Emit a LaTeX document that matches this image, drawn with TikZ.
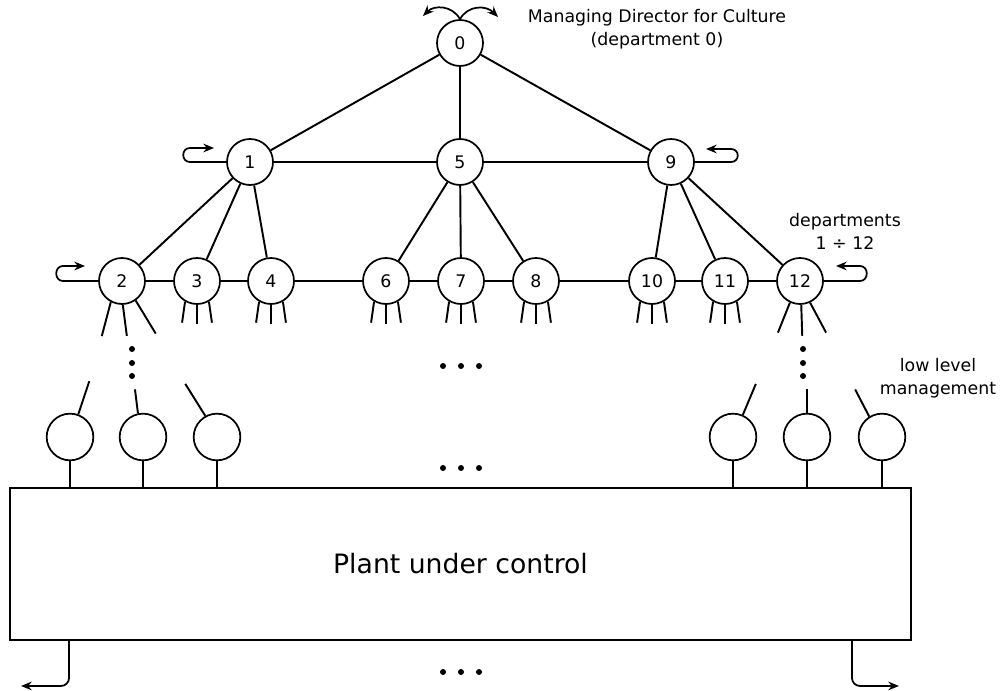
\documentclass[tikz,border=0pt]{standalone}
\usepackage{fontspec}
\setmainfont{DejaVu Sans}
\usetikzlibrary{arrows.meta}
\begin{document}
\begin{tikzpicture}[x=0.75pt,y=-0.75pt,
  ln/.style={line width=1.45pt},
  dept/.style={circle,draw,line width=1.3pt,minimum size=34.5pt,inner sep=0pt,font=\fontsize{13}{15}\selectfont},
  leaf/.style={circle,draw,line width=1.3pt,minimum size=35pt,inner sep=0pt},
  arr/.style={line width=1.3pt,-{Stealth[length=8pt,width=6.5pt]}},
  lbl/.style={font=\fontsize{13}{17.25}\selectfont,align=center,inner sep=0pt},
  dot/.style={circle,fill,inner sep=0pt,minimum size=4.5pt}]
\useasboundingbox (0,0) rectangle (1000,691);
% department nodes
\node[dept] (n0) at (460,43) {0};
\node[dept] (n1) at (250,162) {1};
\node[dept] (n5) at (460,162) {5};
\node[dept] (n9) at (671,162) {9};
\node[dept] (n2) at (122,281) {2};
\node[dept] (n3) at (197,281) {3};
\node[dept] (n4) at (271,281) {4};
\node[dept] (n6) at (386,281) {6};
\node[dept] (n7) at (461,281) {7};
\node[dept] (n8) at (536,281) {8};
\node[dept] (n10) at (652,281) {10};
\node[dept] (n11) at (725,281) {11};
\node[dept] (n12) at (800,281) {12};
% edges
\draw[ln] (n0) -- (n1);
\draw[ln] (n0) -- (n5);
\draw[ln] (n0) -- (n9);
\draw[ln] (n1) -- (n5);
\draw[ln] (n5) -- (n9);
\draw[ln] (n1) -- (n2);
\draw[ln] (n1) -- (n3);
\draw[ln] (n1) -- (n4);
\draw[ln] (n5) -- (n6);
\draw[ln] (n5) -- (n7);
\draw[ln] (n5) -- (n8);
\draw[ln] (n9) -- (n10);
\draw[ln] (n9) -- (n11);
\draw[ln] (n9) -- (n12);
\draw[ln] (n2) -- (n3);
\draw[ln] (n3) -- (n4);
\draw[ln] (n4) -- (n6);
\draw[ln] (n6) -- (n7);
\draw[ln] (n7) -- (n8);
\draw[ln] (n8) -- (n10);
\draw[ln] (n10) -- (n11);
\draw[ln] (n11) -- (n12);
% self loops
\draw[arr] (n0.north) .. controls (452,5) and (434,5) .. (423,16);
\draw[arr] (n0.north) .. controls (468,5) and (486,5) .. (498,17);
\draw[arr] (n1.west) -- (190,162) .. controls (181,162) and (181,148) .. (190,148) -- (214,148);
\draw[arr] (n9.east) -- (731,162) .. controls (740,162) and (740,149) .. (731,149) -- (706,149);
\draw[arr] (n2.west) -- (63,281) .. controls (54,281) and (54,266) .. (63,266) -- (85,266);
\draw[arr] (n12.east) -- (860,281) .. controls (869,281) and (869,266) .. (860,266) -- (836,266);
% legs
\foreach \n in {n3,n4,n6,n7,n8,n10,n11}{
  \draw[ln] (\n.-120) -- ++(-3,21);
  \draw[ln] (\n.-90) -- ++(0,19);
  \draw[ln] (\n.-60) -- ++(3,21);
}
\draw[ln] (n2.-118) -- ++(-9,34);
\draw[ln] (n2.-88) -- ++(4,31);
\draw[ln] (n2.-55) -- ++(20,33);
\draw[ln] (n12.-115) -- ++(-12,30);
\draw[ln] (n12.-87) -- ++(1,31);
\draw[ln] (n12.-65) -- ++(16,30);
% vertical dots
\foreach \y in {349,363,376}{
  \node[dot] at (132,\y) {};
  \node[dot] at (803,\y) {};
}
% horizontal dots
\foreach \y in {366,468,672}{
  \foreach \x in {443,461,479}{
    \node[dot] at (\x,\y) {};
  }
}
% plant
\node[draw,line width=1.45pt,minimum width=675.75pt,minimum height=114pt,inner sep=0pt,font=\fontsize{20}{24}\selectfont] (plant) at (460.5,564) {Plant under control};
% low level nodes
\node[leaf] (l1) at (70,437) {};
\node[leaf] (l2) at (143,437) {};
\node[leaf] (l3) at (217,437) {};
\node[leaf] (l4) at (733,437) {};
\node[leaf] (l5) at (807,437) {};
\node[leaf] (l6) at (882,437) {};
\draw[ln] (l1.70) -- ++(11,-33);
\draw[ln] (l2.102) -- ++(-3,-24);
\draw[ln] (l3.119) -- ++(-20,-32);
\draw[ln] (l4.66) -- ++(13,-31);
\draw[ln] (l5.90) -- ++(0,-24);
\draw[ln] (l6.122) -- ++(-14,-27);
\foreach \l in {l1,l2,l3,l4,l5,l6}{
  \draw[ln] (\l.south) -- (\l.south |- plant.north);
}
% bottom arrows
\draw[arr,rounded corners=6pt] ([xshift=45pt]plant.south west) -- ++(0,45) -- ++(-48,0);
\draw[arr,rounded corners=6pt] ([xshift=-45pt]plant.south east) -- ++(0,45) -- ++(47,0);
% labels
\node[lbl] (t0) at (657,29) {Managing Director for Culture\\(department 0)};
\node[lbl] (t1) at (845,231) {departments\\1 ÷ 12};
\node[lbl] (t2) at (938,378) {low level\\management};
\end{tikzpicture}
\end{document}
